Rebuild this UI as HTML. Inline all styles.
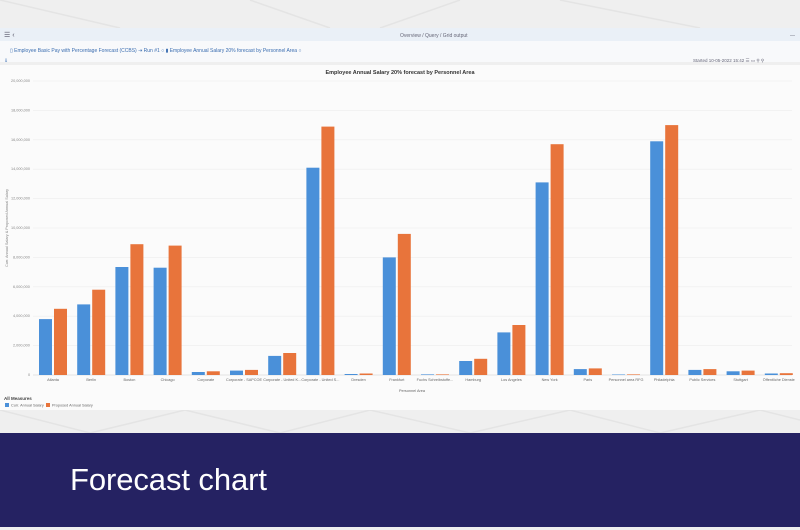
<!DOCTYPE html>
<html><head><meta charset="utf-8"><style>
html,body{margin:0;padding:0;width:800px;height:530px;overflow:hidden;background:#f0f0f0;font-family:"Liberation Sans",sans-serif}
</style></head><body>
<svg width="800" height="530" style="position:absolute;left:0;top:0" font-family="Liberation Sans, sans-serif">
<rect x="0" y="0" width="800" height="530" fill="#efefef"/>
<path d="M0,0 L120,28 M250,0 L330,28 M460,0 L380,28 M560,0 L700,28 M0,410 L90,433 L185,410 L280,433 L370,410 L470,433 L570,410 L660,433 L760,410 L800,420" stroke="#e4e4e4" stroke-width="1.5" fill="none"/>
<rect x="0" y="28" width="800" height="13" fill="#eaf0f7"/>
<text x="4" y="37" font-size="7" fill="#556">☰  ‹</text>
<text x="400" y="37" font-size="5" fill="#667">Overview / Query / Grid output</text>
<text x="790" y="37" font-size="5" fill="#667">—</text>
<rect x="0" y="41" width="800" height="21" fill="#f8f9fb"/>
<text x="10" y="52" font-size="5" fill="#3a6db0">▯ Employee Basic Pay with Percentage Forecast (CCBS)    ⇥ Run #1 ○    ▮ Employee Annual Salary 20% forecast by Personnel Area ○</text>
<text x="4" y="62" font-size="5" fill="#3a6db0">⇓</text>
<text x="693" y="62" font-size="4.5" fill="#667">Started 10-05-2022 15:42  ☰  ▭  ⚲  ⚲</text>
<rect x="0" y="65" width="800" height="345" fill="#fbfbfb"/>
<text x="400" y="74" font-size="5.5" font-weight="bold" fill="#333" text-anchor="middle">Employee Annual Salary 20% forecast by Personnel Area</text>
<g stroke="#ececec" stroke-width="0.6">
<line x1="33" y1="81" x2="792" y2="81"/><line x1="33" y1="110.4" x2="792" y2="110.4"/><line x1="33" y1="139.8" x2="792" y2="139.8"/><line x1="33" y1="169.2" x2="792" y2="169.2"/><line x1="33" y1="198.6" x2="792" y2="198.6"/><line x1="33" y1="228" x2="792" y2="228"/><line x1="33" y1="257.4" x2="792" y2="257.4"/><line x1="33" y1="286.8" x2="792" y2="286.8"/><line x1="33" y1="316.2" x2="792" y2="316.2"/><line x1="33" y1="345.6" x2="792" y2="345.6"/>
</g>
<line x1="33" y1="375" x2="792" y2="375" stroke="#ccc" stroke-width="0.6"/>
<g font-size="3.8" fill="#888">
<text x="11" y="82">20,000,000</text><text x="11" y="111.4">18,000,000</text><text x="11" y="140.8">16,000,000</text><text x="11" y="170.2">14,000,000</text><text x="11" y="199.6">12,000,000</text><text x="11" y="229">10,000,000</text><text x="13" y="258.4">8,000,000</text><text x="13" y="287.8">6,000,000</text><text x="13" y="317.2">4,000,000</text><text x="13" y="346.6">2,000,000</text><text x="28" y="376">0</text>
</g>
<text transform="translate(8,228) rotate(-90)" font-size="3.8" fill="#888" text-anchor="middle">Curr. Annual Salary &amp; Proposed Annual Salary</text>
<g fill="#4a90d9">
<rect x="39" y="319.1" width="13" height="55.9"/><rect x="77.2" y="304.4" width="13" height="70.6"/><rect x="115.4" y="267" width="13" height="108"/><rect x="153.6" y="267.7" width="13" height="107.3"/><rect x="191.8" y="372" width="13" height="3"/><rect x="230" y="370.6" width="13" height="4.4"/><rect x="268.2" y="355.9" width="13" height="19.1"/><rect x="306.4" y="167.7" width="13" height="207.3"/><rect x="344.6" y="374" width="13" height="1"/><rect x="382.8" y="257.4" width="13" height="117.6"/><rect x="421" y="374.4" width="13" height="0.6"/><rect x="459.2" y="361" width="13" height="14"/><rect x="497.4" y="332.4" width="13" height="42.6"/><rect x="535.6" y="182.4" width="13" height="192.6"/><rect x="573.8" y="369.1" width="13" height="5.9"/><rect x="612" y="374.5" width="13" height="0.5"/><rect x="650.2" y="141.3" width="13" height="233.7"/><rect x="688.4" y="369.9" width="13" height="5.1"/><rect x="726.6" y="371.3" width="13" height="3.7"/><rect x="764.8" y="373.5" width="13" height="1.5"/>
</g>
<g fill="#e8743b">
<rect x="54" y="308.8" width="13" height="66.2"/><rect x="92.2" y="289.7" width="13" height="85.3"/><rect x="130.4" y="244.2" width="13" height="130.8"/><rect x="168.6" y="245.6" width="13" height="129.4"/><rect x="206.8" y="371.3" width="13" height="3.7"/><rect x="245" y="369.9" width="13" height="5.1"/><rect x="283.2" y="353" width="13" height="22"/><rect x="321.4" y="126.6" width="13" height="248.4"/><rect x="359.6" y="373.5" width="13" height="1.5"/><rect x="397.8" y="233.9" width="13" height="141.1"/><rect x="436" y="374.4" width="13" height="0.6"/><rect x="474.2" y="358.8" width="13" height="16.2"/><rect x="512.4" y="325" width="13" height="50"/><rect x="550.6" y="144.2" width="13" height="230.8"/><rect x="588.8" y="368.4" width="13" height="6.6"/><rect x="627" y="374.4" width="13" height="0.6"/><rect x="665.2" y="125.1" width="13" height="249.9"/><rect x="703.4" y="369.1" width="13" height="5.9"/><rect x="741.6" y="370.6" width="13" height="4.4"/><rect x="779.8" y="373.2" width="13" height="1.8"/>
</g>
<g font-size="3.8" fill="#666" text-anchor="middle">
<text x="53" y="381">Atlanta</text><text x="91.2" y="381">Berlin</text><text x="129.4" y="381">Boston</text><text x="167.6" y="381">Chicago</text><text x="205.8" y="381">Corporate</text><text x="244" y="381">Corporate - SAPCOE</text><text x="282.2" y="381">Corporate - United K...</text><text x="320.4" y="381">Corporate - United S...</text><text x="358.6" y="381">Dresden</text><text x="396.8" y="381">Frankfurt</text><text x="435" y="381">Fuchs Schreibstoffe...</text><text x="473.2" y="381">Hamburg</text><text x="511.4" y="381">Los Angeles</text><text x="549.6" y="381">New York</text><text x="587.8" y="381">Paris</text><text x="626" y="381">Personnel area RFG</text><text x="664.2" y="381">Philadelphia</text><text x="702.4" y="381">Public Services</text><text x="740.6" y="381">Stuttgart</text><text x="778.8" y="381">Öffentliche Dienste</text>
<text x="412" y="392">Personnel Area</text>
</g>
<text x="4" y="400" font-size="4.5" font-weight="bold" fill="#444">All Measures</text>
<rect x="5" y="403" width="4" height="4" fill="#4a90d9"/><text x="11" y="406.5" font-size="3.8" fill="#666">Curr. Annual Salary</text>
<rect x="46" y="403" width="4" height="4" fill="#e8743b"/><text x="52" y="406.5" font-size="3.8" fill="#666">Proposed Annual Salary</text>
<rect x="0" y="433" width="800" height="94" fill="#252262"/>
<text x="70" y="490" font-size="31" textLength="197" fill="#ffffff">Forecast chart</text>
</svg>
</body></html>
